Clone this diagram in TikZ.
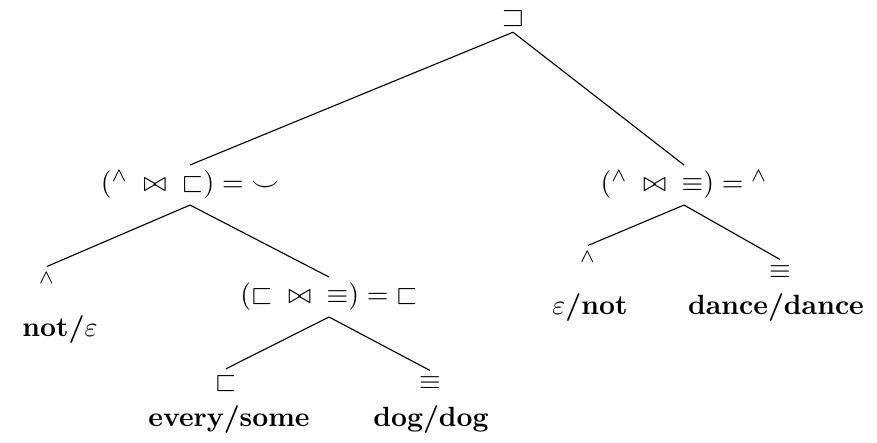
\documentclass[tikz,border=0pt]{standalone}
\usepackage{amsmath,amssymb}
\usepackage{xcolor}
\usepackage{tikz}
\usetikzlibrary{positioning}

\newcommand{\ngrel}{{}^{\wedge}}
\newcommand{\jn}{\;\mathrel{\bowtie}\;}

\begin{document}
\begin{tikzpicture}[x=0.36pt,y=-0.36pt,
    tnode/.style={inner sep=2pt},
    wordlbl/.style={inner sep=1pt,font=\bfseries}]
  \useasboundingbox (0,0) rectangle (877,442);
  % tree nodes
  \node[tnode] (root) at (513,18) {$\sqsupset$};
  \node[tnode] (lft) at (190,185) {$({\ngrel} \jn {\sqsubset}) = {\smile}$};
  \node[tnode] (rgt) at (684,185) {$({\ngrel} \jn {\equiv}) = {\ngrel}$};
  \node[tnode] (lneg) at (47,283) {$\ngrel$};
  \node[tnode] (lsub) at (329,297) {$({\sqsubset} \jn {\equiv}) = {\sqsubset}$};
  \node[tnode] (every) at (226,383) {$\sqsubset$};
  \node[tnode] (dog) at (430,383) {$\equiv$};
  \node[tnode] (rneg) at (588,262) {$\ngrel$};
  \node[tnode] (dance) at (780,272) {$\equiv$};
  % word pairs
  \node[wordlbl] (wnot) at (60,330) {not/$\varepsilon$};
  \node[wordlbl] (wevery) at (229,420) {every/some};
  \node[wordlbl] (wdog) at (431,420) {dog/dog};
  \node[wordlbl] (weps) at (590,308) {$\varepsilon$/not};
  \node[wordlbl] (wdance) at (776,308) {dance/dance};
  % edges
  \draw (root.south) -- (lft.north);
  \draw (root.south) -- (rgt.north);
  \draw (lft.south) -- (lneg.north);
  \draw (lft.south) -- (lsub.north);
  \draw (lsub.south) -- (every.north);
  \draw (lsub.south) -- (dog.north);
  \draw (rgt.south) -- (rneg.north);
  \draw (rgt.south) -- (dance.north);
\end{tikzpicture}
\end{document}
